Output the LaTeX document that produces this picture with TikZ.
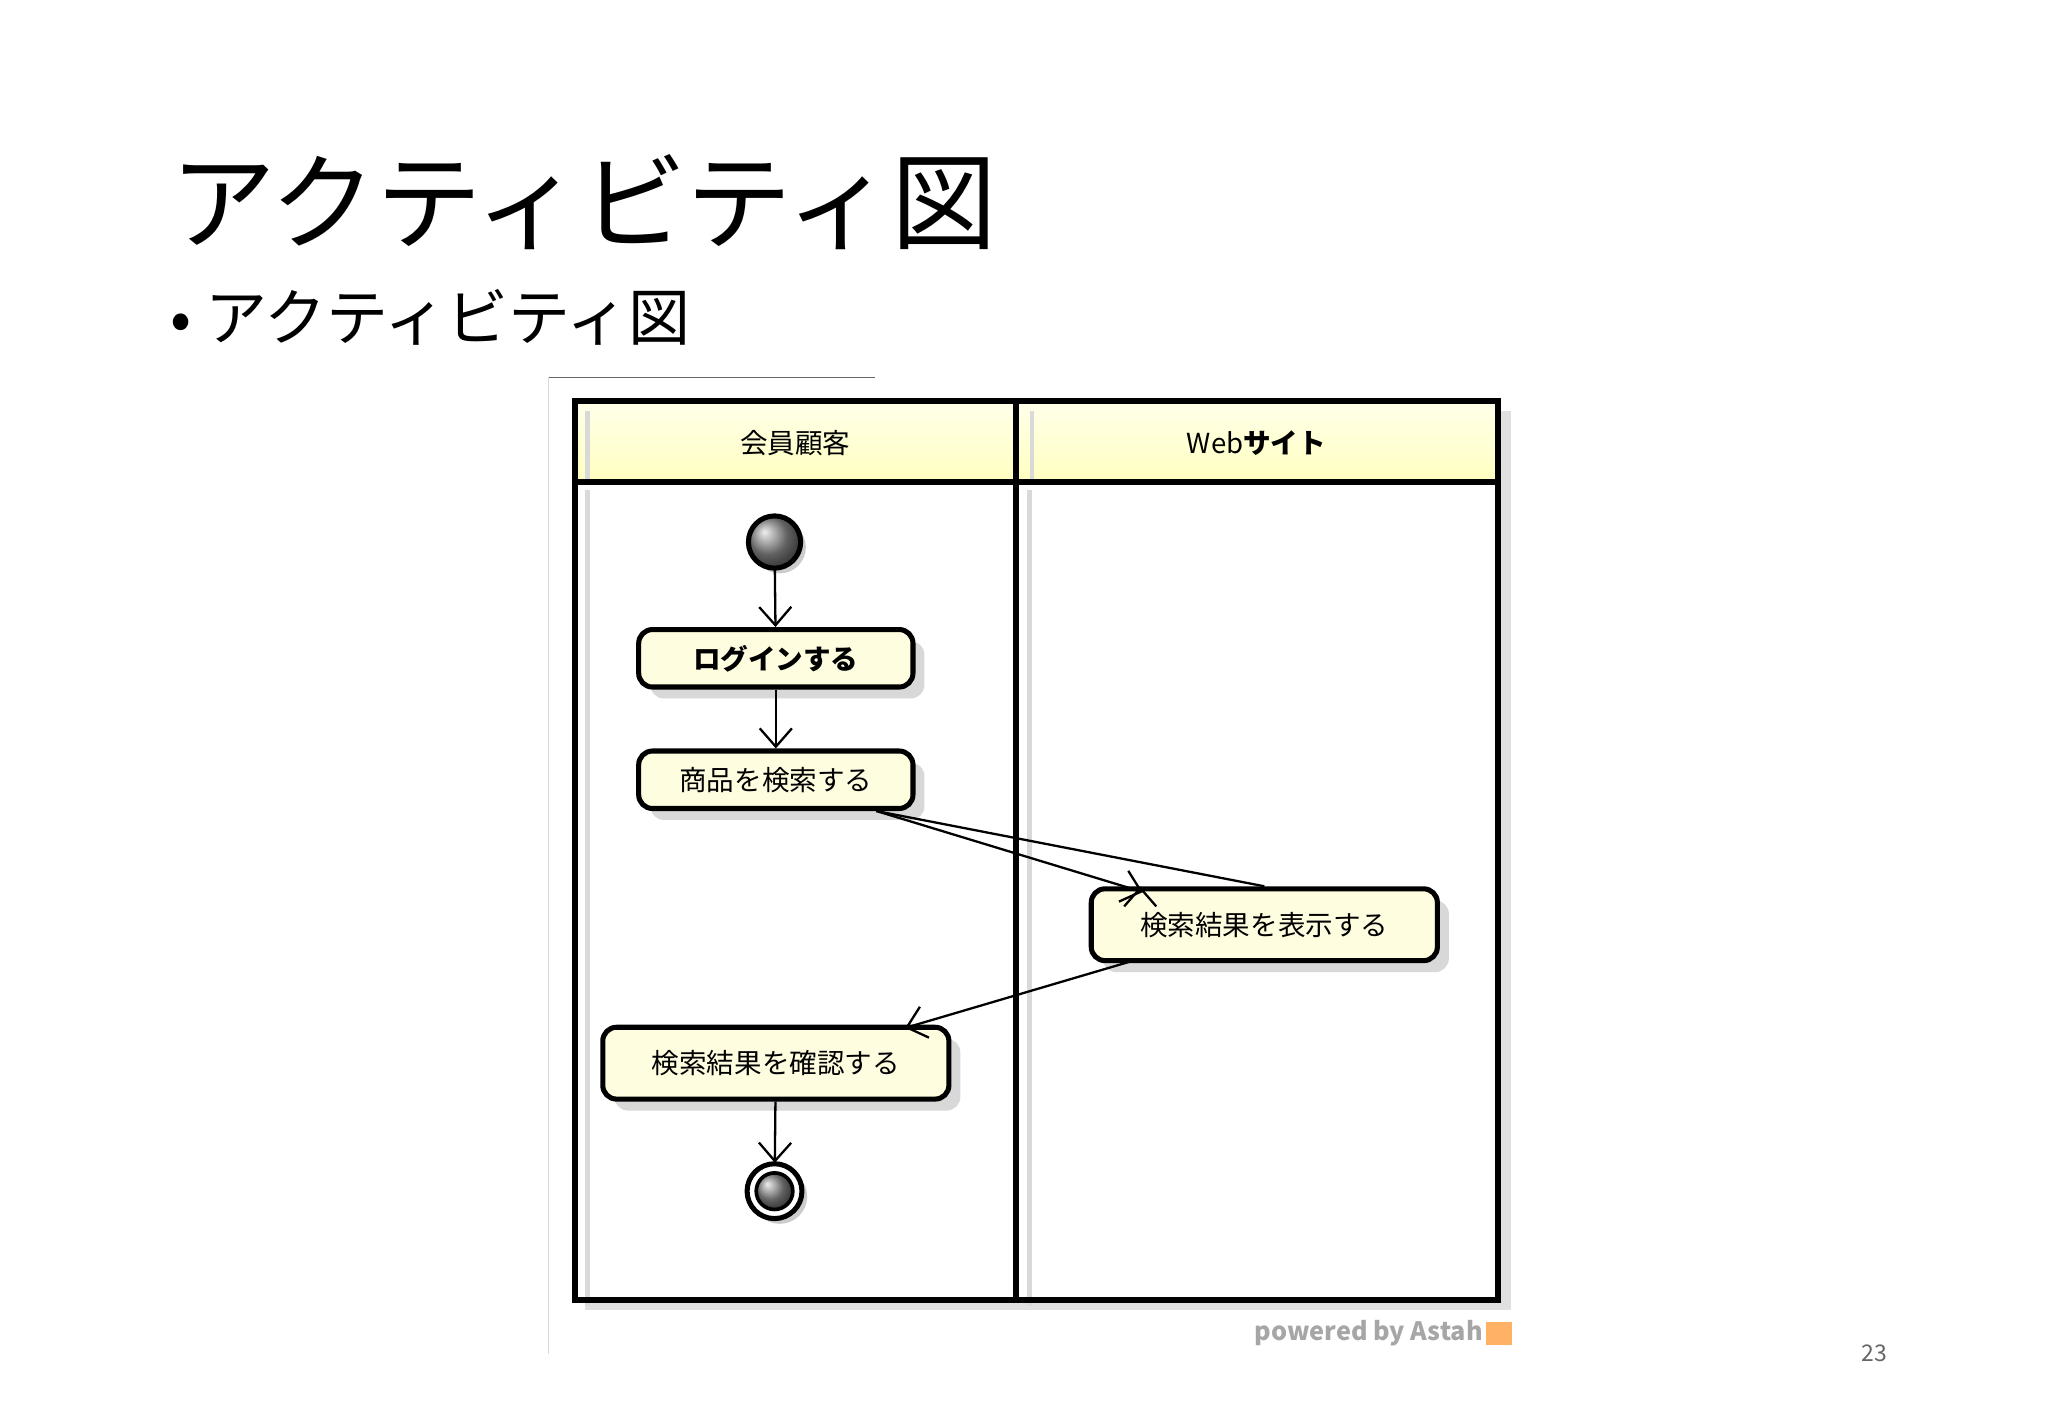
\documentclass[tikz,border=0pt]{standalone}
\usepackage{fontspec}
\setmainfont{Noto Sans CJK JP}
\newfontfamily\jpb{Noto Sans CJK JP}[BoldFont={* Bold}]
\usetikzlibrary{arrows.meta,shadows}
\begin{document}
\begin{tikzpicture}[x=0.01cm,y=-0.01cm,
  act/.style={draw,line width=1.1pt,rounded corners=3pt,fill=yellow!12,
    drop shadow={shadow xshift=2.5pt,shadow yshift=-2.5pt,fill=black!25,opacity=.6},font=\fontsize{6}{7}\selectfont,inner sep=0},
  flow/.style={-{Straight Barb[length=4pt,width=7pt]},line width=0.5pt},
  hdr/.style={font=\fontsize{6}{7}\selectfont}]
\useasboundingbox (0,0) rectangle (1568,1085);
\fill[white] (0,0) rectangle (1568,1085);
\node[anchor=west,font=\fontsize{23}{26}\selectfont] (title) at (118,155) {アクティビティ図};
\node[anchor=west,font=\fontsize{13.5}{16}\selectfont] (bul) at (118,243) {• アクティビティ図};
\draw[black!60,line width=0.4pt] (420,289) -- (670,289);
\draw[black!15,line width=0.4pt] (420,289) -- (420,1037);
% shadow
\fill[black!12] (448,315) rectangle (1157,1003);
\fill[white] (440,307) rectangle (1147,995);
\shade[top color=yellow!8,bottom color=yellow!25] (440,307) rectangle (1147,369);
\draw[black!15,line width=1pt] (450,375) -- (450,1000) (788,375) -- (788,1000) (790,315)--(790,369) (450,315)--(450,369);
\draw[line width=1.3pt] (440,307) rectangle (1147,995) (440,369) -- (1147,369) (778,307) -- (778,995);
\node[hdr] (h1) at (609,339) {会員顧客};
\node[hdr] (h2) at (962,339) {Web\textbf{サイト}};
% nodes
\fill[black!20] (597,419) circle (20);
\shade[ball color=black!45,draw] (593,415) circle (20);
\draw[line width=1.1pt] (593,415) circle (20);
\node[minimum size=40*0.01cm,circle,inner sep=0] (init) at (593,415) {};
\node[act,minimum width=210*0.01cm,minimum height=44*0.01cm] (login) at (594,504) {\textbf{ログインする}};
\node[act,minimum width=210*0.01cm,minimum height=44*0.01cm] (search) at (594,597) {商品を検索する};
\node[act,minimum width=265*0.01cm,minimum height=55*0.01cm] (show) at (968,708) {検索結果を表示する};
\node[act,minimum width=265*0.01cm,minimum height=55*0.01cm] (check) at (594,814) {検索結果を確認する};
\fill[black!20] (597,916) circle (21);
\draw[line width=1.1pt,fill=white] (593,912) circle (21);
\shade[ball color=black!45] (593,912) circle (14);
\draw[line width=0.8pt] (593,912) circle (14);
\node[circle,minimum size=42*0.01cm,inner sep=0] (fin) at (593,912) {};
\draw[flow] (init) -- (login);
\draw[flow] (login) -- (search);
\draw[flow] (search.south east) ++(-30,0) coordinate (s1) -- (show.north) ++(-95,0) coordinate (s2);
\draw[flow] (s1) -- (875,683);
\draw[flow] (866,736) -- (693,787);
\draw[flow] (check) -- (fin);
\node[black!35,font=\bfseries\fontsize{5.5}{6}\selectfont] (pw) at (1048,1021) {powered by Astah};
\fill[orange!60] (1138,1012) rectangle (1158,1030);
\node[black!60,font=\fontsize{5}{6}\selectfont] (pg) at (1435,1036) {23};
\end{tikzpicture}
\end{document}
